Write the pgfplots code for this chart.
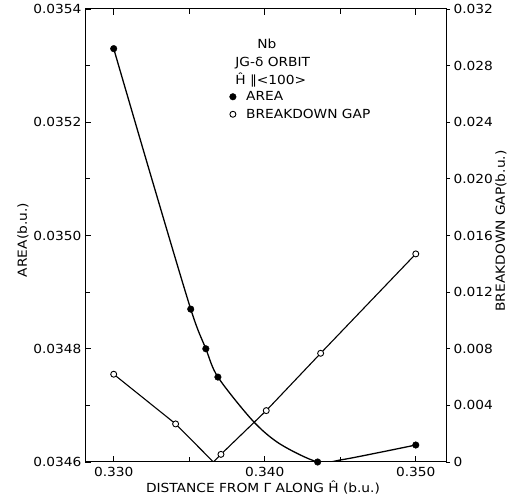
\documentclass[border=0pt]{standalone}
\usepackage{fontspec}
\setmainfont{DejaVu Sans}[FakeStretch=1.1]
\usepackage{pgfplots}
\pgfplotsset{compat=1.18}

\begin{document}
\begin{tikzpicture}
\pgfplotsset{
  every axis/.append style={
    scale only axis, width=361pt, height=453pt,
    xmin=0.3281, xmax=0.352,
    font=\fontsize{12.5}{14}\selectfont,
    axis line style={line width=1pt},
    every tick/.style={black, line width=0.9pt},
    major tick length=6pt, minor tick length=5pt,
    scaled ticks=false,
  }
}
% left axis: area
\begin{axis}[
  ymin=0.0346, ymax=0.0354,
  tick align=inside,
  xtick pos=both, ytick pos=left,
  xtick={0.330,0.340,0.350}, xticklabels={0.330,0.340,0.350},
  minor xtick={0.335,0.345},
  ytick={0.0346,0.0348,0.0350,0.0352,0.0354},
  yticklabels={0.0346,0.0348,0.0350,0.0352,0.0354},
  minor ytick={0.0347,0.0349,0.0351,0.0353},
  xticklabel style={yshift=-2pt},
  xlabel={DISTANCE FROM Γ ALONG Ĥ (b.u.)},
  xlabel style={at={(rel axis cs:0.493,0)}, anchor=center, yshift=-26pt},
  ylabel={AREA(b.u.)},
  ylabel style={at={(rel axis cs:0,0.49)}, anchor=center, yshift=62pt},
]
% curve drawn through the data and points
\addplot[smooth, line width=1.3pt, forget plot] coordinates {
  (0.3300,0.03533) (0.3325,0.035102) (0.3351,0.03487) (0.3361,0.03480)
  (0.3369,0.03475) (0.3392,0.034673) (0.3410,0.034632) (0.3435,0.03460)
  (0.3451,0.034604) (0.3478,0.034618) (0.3500,0.03463)
};
\addplot[only marks, mark=*, mark size=3.3pt] coordinates {
  (0.3300,0.03533) (0.3351,0.03487) (0.3361,0.03480) (0.3369,0.03475)
  (0.3435,0.03460) (0.3500,0.03463)
};
\node[anchor=north west, align=left, inner sep=0pt, font=\fontsize{12.5}{18}\selectfont]
  at (rel axis cs:0.416,0.934) {\hspace*{22pt}Nb\\JG-δ ORBIT\\Ĥ ∥<100>};
\end{axis}
% right axis: breakdown gap
\begin{axis}[
  hide x axis,
  axis y line*=right,
  ymin=0, ymax=0.032,
  tick align=outside,
  major tick length=4pt,
  ytick={0,0.004,0.008,0.012,0.016,0.020,0.024,0.028,0.032},
  yticklabels={0,0.004,0.008,0.012,0.016,0.020,0.024,0.028,0.032},
  ylabel={BREAKDOWN GAP(b.u.)},
  ylabel style={at={(rel axis cs:1,0.51)}, anchor=center, yshift=-55pt},
  legend cell align=left,
  legend style={at={(rel axis cs:0.40,0.826)}, anchor=north west,
    draw=none, fill=none, inner sep=0pt, row sep=0pt,
    /tikz/every odd column/.append style={column sep=8pt},
    nodes={inner ysep=3.5pt, text height=9pt, text depth=1.5pt}},
]
\addlegendimage{only marks, mark=*, mark size=3.3pt}
\addlegendentry{AREA}
\addplot[line width=1.1pt, forget plot] coordinates {
  (0.3300,0.0062) (0.3341,0.00269) (0.3366,0) (0.3371,0.00054)
  (0.3401,0.00363) (0.3437,0.00768) (0.3500,0.0147)
};
\addplot[only marks, mark=*, mark size=3pt, mark options={fill=white, line width=0.9pt}] coordinates {
  (0.3300,0.0062) (0.3341,0.00269) (0.3371,0.00054)
  (0.3401,0.00363) (0.3437,0.00768) (0.3500,0.0147)
};
\addlegendentry{BREAKDOWN GAP}
\end{axis}
\path ([xshift=-85pt,yshift=-40pt]current axis.south west) rectangle ([xshift=64pt,yshift=9pt]current axis.north east);
\end{tikzpicture}
\end{document}
